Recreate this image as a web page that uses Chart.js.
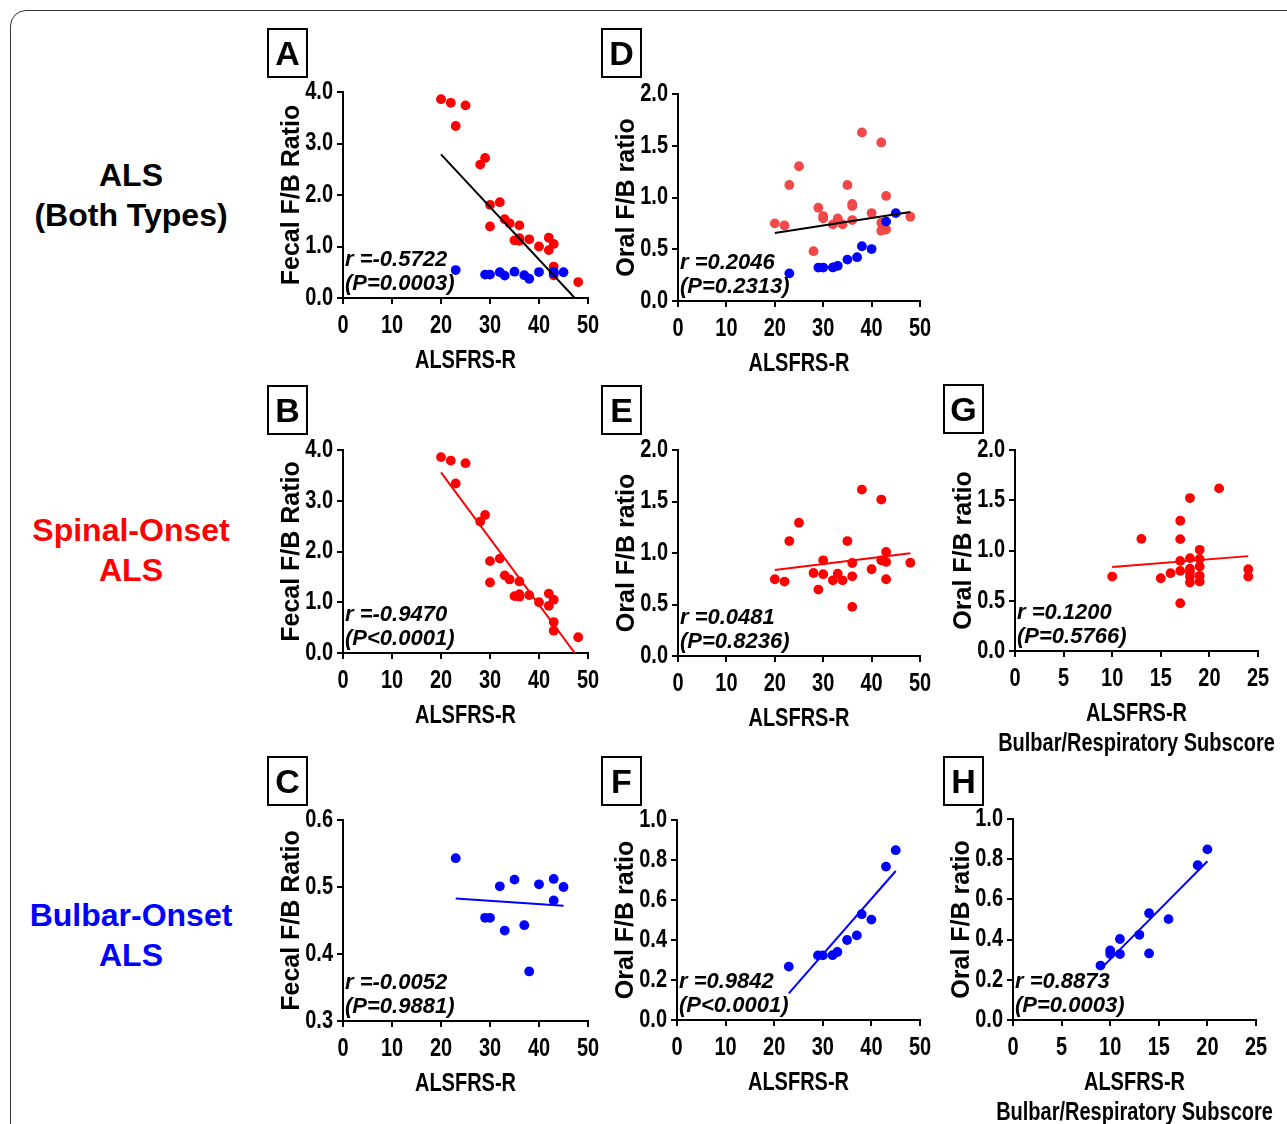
<!DOCTYPE html>
<html>
<head>
<meta charset="utf-8">
<script src="https://cdn.jsdelivr.net/npm/chart.js@4.4.1/dist/chart.umd.min.js"></script>
<style>
body { margin:0; background:#fff; width:1287px; height:1124px; overflow:hidden; position:relative; font-family:'Liberation Sans', Arial, sans-serif; }
#frame { position:absolute; left:10px; top:10px; width:1300px; height:1200px; border:1.5px solid #333; border-radius:16px; }
.row { position:absolute; left:11px; width:240px; text-align:center; font-weight:bold; font-size:32px; line-height:40px; }
.tag { position:absolute; width:37px; height:46px; border:2px solid #000; font-weight:bold; font-size:34px; line-height:47px; text-align:center; }
canvas { position:absolute; }
</style>
</head>
<body>
<div id="frame"></div>
<div class="row" style="top:155px;color:#000">ALS<br>(Both Types)</div>
<div class="row" style="top:510px;color:#f00">Spinal-Onset<br>ALS</div>
<div class="row" style="top:895px;color:#00f">Bulbar-Onset<br>ALS</div>

<script>
// spinal-onset patients (red)
let spinalAlsfrs = [20,22,23,25,28,29,30,30,32,33,34,35,36,36,36,38,40,42,42,43,43,43,48];
let spinalFecal = [3.86,3.79,3.34,3.74,2.59,2.72,1.81,1.39,1.86,1.53,1.45,1.12,1.41,1.16,1.11,1.14,1.00,1.17,0.93,1.05,0.61,0.44,0.31];
let spinalOral = [0.745,0.723,1.116,1.294,0.806,0.645,0.929,0.794,0.735,0.800,0.735,1.116,0.903,0.774,0.477,1.616,0.842,1.519,0.929,0.913,1.010,0.745,0.906];
// panel D plots the oral values a little differently
let bothOralAlsfrs = [20,22,23,25,28,29,30,30,32,33,34,35,36,36,36,38,40,42,42,42,43,43,48];
let bothOral = [0.750,0.730,1.121,1.302,0.481,0.901,0.821,0.798,0.740,0.798,0.740,1.121,0.937,0.918,0.782,1.628,0.850,1.532,0.756,0.679,1.015,0.691,0.814];
let spinalSubscore = [10,13,15,16,17,17,17,17,17,18,18,18,18,18,18,19,19,19,19,19,21,24,24];
let spinalSubOral = [0.741,1.116,0.724,0.774,1.296,1.113,0.897,0.797,0.475,1.522,0.924,0.82,0.78,0.741,0.681,1.007,0.917,0.841,0.748,0.691,1.618,0.814,0.741];

// bulbar-onset patients (blue)
let bulbarAlsfrs = [23,29,30,32,33,35,37,38,40,43,43,45];
let bulbarFecal = [0.543,0.454,0.454,0.501,0.435,0.511,0.443,0.374,0.504,0.512,0.480,0.500];
let bulbarOralAlsfrs = [23,29,30,32,33,35,37,38,40,43,45];
let bulbarOral = [0.267,0.323,0.323,0.324,0.340,0.400,0.423,0.529,0.502,0.767,0.849];
let bulbarSubscore = [9,10,10,11,11,13,14,14,16,19,20];
let bulbarSubOral = [0.271,0.346,0.328,0.403,0.328,0.424,0.531,0.331,0.502,0.770,0.849];

// fitted lines, end points
let fitA = [[20,2.79],[47.3,0]];
let fitB = [[20,3.56],[47.3,0]];
let fitC = [[23,0.483],[45,0.472]];
let fitD = [[20,0.656],[48,0.859]];
let fitE = [[20,0.835],[48,0.997]];
let fitF = [[23,0.133],[45,0.745]];
let fitG = [[10,0.837],[24,0.944]];
let fitH = [[9,0.253],[20,0.790]];

// tick labels
let alsfrsTicks = [0,10,20,30,40,50];
let subscoreTicks = [0,5,10,15,20,25];
let fecalTicks = [0,1,2,3,4];
let fecalBulbarTicks = [0.3,0.4,0.5,0.6];
let oralTicks = [0,0.5,1,1.5,2];
let oralBulbarTicks = [0,0.2,0.4,0.6,0.8,1];

const RED = '#ff0000';
const BLUE = '#0000ff';
const wide = "'Liberation Sans', Arial, sans-serif";

function pts(xs, ys) {
    return xs.map((x, i) => ({x: x, y: ys[i]}));
}

// the figure uses a condensed face; squeeze the regular one horizontally
function narrowFill(ctx, text, x, y) {
    ctx.save();
    ctx.translate(x, y);
    ctx.scale(0.8, 1);
    ctx.fillText(text, 0, 0);
    ctx.restore();
}

let labelPlugin = {
    id: 'labels',
    afterDraw(chart, args, opts) {
        let ctx = chart.ctx;
        let a = chart.chartArea;
        let xs = chart.scales.x, ys = chart.scales.y;
        ctx.save();
        ctx.fillStyle = '#000';
        ctx.font = 'bold 25px ' + wide;
        ctx.textBaseline = 'middle';
        ctx.textAlign = 'center';
        xs.ticks.forEach(t => narrowFill(ctx, String(t.value), xs.getPixelForValue(t.value), a.bottom + 28));
        ctx.textAlign = 'right';
        ys.ticks.forEach(t => narrowFill(ctx, t.value.toFixed(1), a.left - 10, ys.getPixelForValue(t.value)));
        ctx.textAlign = 'center';
        opts.xTitle.forEach((line, i) => narrowFill(ctx, line, (a.left + a.right) / 2, a.bottom + 63 + 30 * i));

        ctx.font = 'italic bold 22px ' + wide;
        ctx.textAlign = 'left';
        ctx.textBaseline = 'alphabetic';
        ctx.fillText(opts.r, a.left + 2, a.bottom - 32);
        ctx.fillText(opts.p, a.left + 2, a.bottom - 8);
        ctx.restore();
    }
};

let panels = [
    {tag:'A', L:343, R:588, T:92, B:298, xTicks:alsfrsTicks, yTicks:fecalTicks, yTitle:'Fecal F/B Ratio',
     series:[[bulbarAlsfrs, bulbarFecal, BLUE], [spinalAlsfrs, spinalFecal, RED]], fit:fitA, fitColor:'#000',
     r:'r =-0.5722', p:'(P=0.0003)', tx:267, ty:28},
    {tag:'B', L:343, R:588, T:450, B:653, xTicks:alsfrsTicks, yTicks:fecalTicks, yTitle:'Fecal F/B Ratio',
     series:[[spinalAlsfrs, spinalFecal, RED]], fit:fitB, fitColor:RED,
     r:'r =-0.9470', p:'(P<0.0001)', tx:267, ty:385},
    {tag:'C', L:343, R:588, T:820, B:1021, xTicks:alsfrsTicks, yTicks:fecalBulbarTicks, yTitle:'Fecal F/B Ratio',
     series:[[bulbarAlsfrs, bulbarFecal, BLUE]], fit:fitC, fitColor:BLUE,
     r:'r =-0.0052', p:'(P=0.9881)', tx:267, ty:756},
    {tag:'D', L:678, R:920, T:94, B:301, xTicks:alsfrsTicks, yTicks:oralTicks, yTitle:'Oral F/B ratio',
     series:[[bulbarOralAlsfrs, bulbarOral, BLUE], [bothOralAlsfrs, bothOral, '#f24848']], fit:fitD, fitColor:'#000',
     r:'r =0.2046', p:'(P=0.2313)', tx:601, ty:28},
    {tag:'E', L:678, R:920, T:450, B:656, xTicks:alsfrsTicks, yTicks:oralTicks, yTitle:'Oral F/B ratio',
     series:[[spinalAlsfrs, spinalOral, RED]], fit:fitE, fitColor:RED,
     r:'r =0.0481', p:'(P=0.8236)', tx:601, ty:385},
    {tag:'F', L:677, R:920, T:820, B:1020, xTicks:alsfrsTicks, yTicks:oralBulbarTicks, yTitle:'Oral F/B ratio',
     series:[[bulbarOralAlsfrs, bulbarOral, BLUE]], fit:fitF, fitColor:BLUE,
     r:'r =0.9842', p:'(P<0.0001)', tx:601, ty:756},
    {tag:'G', L:1015, R:1258, T:450, B:651, xTicks:subscoreTicks, yTicks:oralTicks, yTitle:'Oral F/B ratio',
     series:[[spinalSubscore, spinalSubOral, RED]], fit:fitG, fitColor:RED, sub:'Bulbar/Respiratory Subscore',
     r:'r =0.1200', p:'(P=0.5766)', tx:943, ty:384},
    {tag:'H', L:1013, R:1256, T:819, B:1020, xTicks:subscoreTicks, yTicks:oralBulbarTicks, yTitle:'Oral F/B ratio',
     series:[[bulbarSubscore, bulbarSubOral, BLUE]], fit:fitH, fitColor:BLUE, sub:'Bulbar/Respiratory Subscore',
     r:'r =0.8873', p:'(P=0.0003)', tx:943, ty:756}
];

function drawPanel(p) {
    let yW = 70, xH = 80, padTop = 20, padRight = 30;
    let padBottom = p.sub ? 40 : 0;
    let canvas = document.createElement('canvas');
    canvas.width = yW + (p.R - p.L) + padRight;
    canvas.height = padTop + (p.B - p.T) + xH + padBottom;
    canvas.style.left = (p.L - yW) + 'px';
    canvas.style.top = (p.T - padTop) + 'px';
    document.body.appendChild(canvas);

    let tag = document.createElement('div');
    tag.className = 'tag';
    tag.style.left = p.tx + 'px';
    tag.style.top = p.ty + 'px';
    tag.textContent = p.tag;
    document.body.appendChild(tag);

    let datasets = [{
        type: 'line',
        data: p.fit.map(d => ({x: d[0], y: d[1]})),
        borderColor: p.fitColor,
        borderWidth: 2,
        pointRadius: 0,
        fill: false
    }];
    p.series.forEach(s => {
        datasets.push({
            data: pts(s[0], s[1]),
            backgroundColor: s[2],
            borderWidth: 0,
            pointRadius: 4.9
        });
    });

    let axisGrid = {drawOnChartArea: false, drawTicks: true, tickLength: 6, color: '#000', lineWidth: 2};
    let axisBorder = {color: '#000', width: 2};

    new Chart(canvas, {
        type: 'scatter',
        data: {datasets: datasets},
        options: {
            responsive: false,
            animation: false,
            events: [],
            layout: {padding: {top: padTop, right: padRight, left: 0, bottom: padBottom}},
            plugins: {
                legend: {display: false},
                tooltip: {enabled: false},
                labels: {r: p.r, p: p.p, xTitle: p.sub ? ['ALSFRS-R', p.sub] : ['ALSFRS-R']}
            },
            scales: {
                x: {
                    type: 'linear',
                    min: p.xTicks[0],
                    max: p.xTicks[p.xTicks.length - 1],
                    afterBuildTicks: s => { s.ticks = p.xTicks.map(v => ({value: v})); },
                    afterFit: s => { s.height = xH; },
                    grid: axisGrid,
                    border: axisBorder,
                    ticks: {display: false}
                },
                y: {
                    type: 'linear',
                    min: p.yTicks[0],
                    max: p.yTicks[p.yTicks.length - 1],
                    afterBuildTicks: s => { s.ticks = p.yTicks.map(v => ({value: v})); },
                    afterFit: s => { s.width = yW; },
                    grid: axisGrid,
                    border: axisBorder,
                    ticks: {display: false},
                    title: {display: true, text: p.yTitle, color: '#000', font: {family: wide, size: 25, weight: 'bold'}, padding: {top: 4, bottom: 0}}
                }
            }
        },
        plugins: [labelPlugin]
    });
}

panels.forEach(drawPanel);
</script>
</body>
</html>
